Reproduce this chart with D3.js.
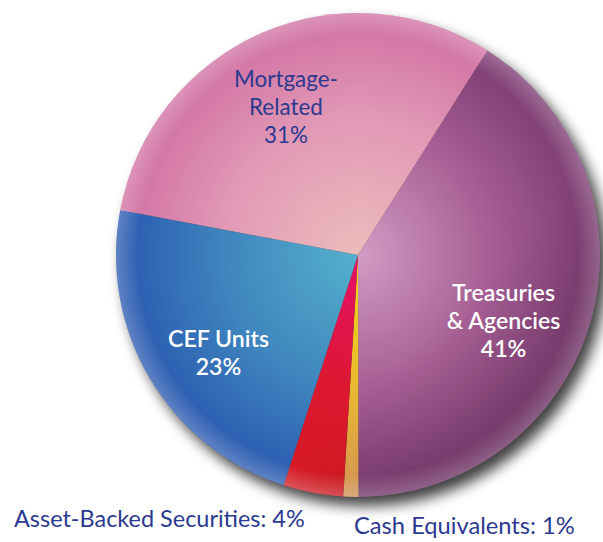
<!DOCTYPE html>
<html>
<head>
<meta charset="utf-8">
<script src="https://cdn.jsdelivr.net/npm/d3@7/dist/d3.min.js"></script>
<style>
  html, body { margin: 0; padding: 0; background: #ffffff; }
  svg { display: block; }
</style>
</head>
<body>
<svg id="chart" width="603" height="542"></svg>
<script>
// ---- data ----
const categories = ["Treasuries & Agencies", "Cash Equivalents", "Asset-Backed Securities", "CEF Units", "Mortgage-Related"];
const values = [41, 1, 4, 23, 31];
const insideLabels = [
  ["Treasuries", "& Agencies", "41%"],
  null,
  null,
  ["CEF Units", "23%"],
  ["Mortgage-", "Related", "31%"]
];
const outsideLabels = ["Treasuries & Agencies", "Cash Equivalents: 1%", "Asset-Backed Securities: 4%"];

// ---- styling / layout ----
const W = 603, H = 542;
const cx = 358, cy = 255, R = 242;
const startDeg = 32.3;
const palette = [
  { inner: "#d29cc4", mid: "#a65e94", outer: "#7a3a70" },  // Treasuries
  { inner: "#f0dc10", mid: "#e8b830", outer: "#dc9a58" },  // Cash
  { inner: "#e6106a", mid: "#dc1830", outer: "#d41a22" },  // ABS
  { inner: "#55b0cc", mid: "#3f86be", outer: "#2a58b0" },  // CEF
  { inner: "#ecbcbc", mid: "#e29ab6", outer: "#d070a2" }   // Mortgage
];
const labelColor = ["#ffffff", null, null, "#ffffff", "#2b3990"];
const labelPos = [ [503.5, 301], null, null, [218.5, 347], [286, 87] ];
const labelFirstWidth = [103, null, null, 101, 104];
const lineGap = 28;

const svg = d3.select("#chart");
const defs = svg.append("defs");

const f = defs.append("filter").attr("id", "shadow")
  .attr("x", "-20%").attr("y", "-20%").attr("width", "150%").attr("height", "150%");
f.append("feGaussianBlur").attr("in", "SourceAlpha").attr("stdDeviation", 7);

palette.forEach((p, i) => {
  const g = defs.append("radialGradient").attr("id", "g" + i)
    .attr("gradientUnits", "userSpaceOnUse")
    .attr("cx", 0).attr("cy", 0).attr("r", R)
    .attr("fx", 0).attr("fy", 0);
  g.append("stop").attr("offset", "0%").attr("stop-color", p.inner);
  g.append("stop").attr("offset", "55%").attr("stop-color", p.mid);
  g.append("stop").attr("offset", "100%").attr("stop-color", p.outer);
});

const rimLight = defs.append("radialGradient").attr("id", "rim")
  .attr("gradientUnits", "userSpaceOnUse")
  .attr("cx", 0).attr("cy", 0).attr("r", R);
rimLight.append("stop").attr("offset", "91%").attr("stop-color", "#ffffff").attr("stop-opacity", 0);
rimLight.append("stop").attr("offset", "100%").attr("stop-color", "#ffffff").attr("stop-opacity", 0.25);

const dark = defs.append("linearGradient").attr("id", "shade")
  .attr("x1", "0%").attr("y1", "0%").attr("x2", "100%").attr("y2", "100%");
dark.append("stop").attr("offset", "65%").attr("stop-color", "#000000").attr("stop-opacity", 0);
dark.append("stop").attr("offset", "100%").attr("stop-color", "#1a0018").attr("stop-opacity", 0.2);

svg.append("circle")
  .attr("cx", cx + 7).attr("cy", cy + 9).attr("r", R)
  .attr("fill", "#555").attr("opacity", 0.75)
  .attr("filter", "url(#shadow)");

const pie = d3.pie().sort(null).value(d => d)
  .startAngle(startDeg * Math.PI / 180)
  .endAngle(startDeg * Math.PI / 180 + 2 * Math.PI);
const arcs = pie(values);
const arc = d3.arc().innerRadius(0).outerRadius(R);

const gPie = svg.append("g").attr("transform", `translate(${cx},${cy})`);
gPie.selectAll("path.slice")
  .data(arcs)
  .join("path")
  .attr("class", "slice")
  .attr("d", arc)
  .attr("fill", (d, i) => `url(#g${i})`);

gPie.append("circle").attr("r", R).attr("fill", "url(#rim)");
gPie.append("circle").attr("r", R).attr("fill", "url(#shade)");

insideLabels.forEach((lines, i) => {
  if (!lines) return;
  const [x, y0] = labelPos[i];
  const t = svg.append("text")
    .attr("text-anchor", "middle")
    .attr("font-family", "Lato, 'Open Sans', sans-serif")
    .attr("font-size", 21)
    .attr("font-weight", labelColor[i] === "#ffffff" ? 600 : 400)
    .attr("fill", labelColor[i]);
  const spans = lines.map((s, k) =>
    t.append("tspan").attr("x", x).attr("y", y0 + k * lineGap).text(s));
  const w = spans[0].node().getComputedTextLength();
  t.attr("font-size", 21 * labelFirstWidth[i] / w);
});

function outside(txt, x, y, targetW) {
  const t = svg.append("text")
    .attr("x", x).attr("y", y)
    .attr("font-family", "Lato, 'Open Sans', sans-serif")
    .attr("font-size", 21)
    .attr("fill", "#2b3990")
    .text(txt);
  const w = t.node().getComputedTextLength();
  t.attr("font-size", 21 * targetW / w);
}
outside(outsideLabels[2], 14, 527, 291);
outside(outsideLabels[1], 354, 534, 221);
</script>
</body>
</html>
